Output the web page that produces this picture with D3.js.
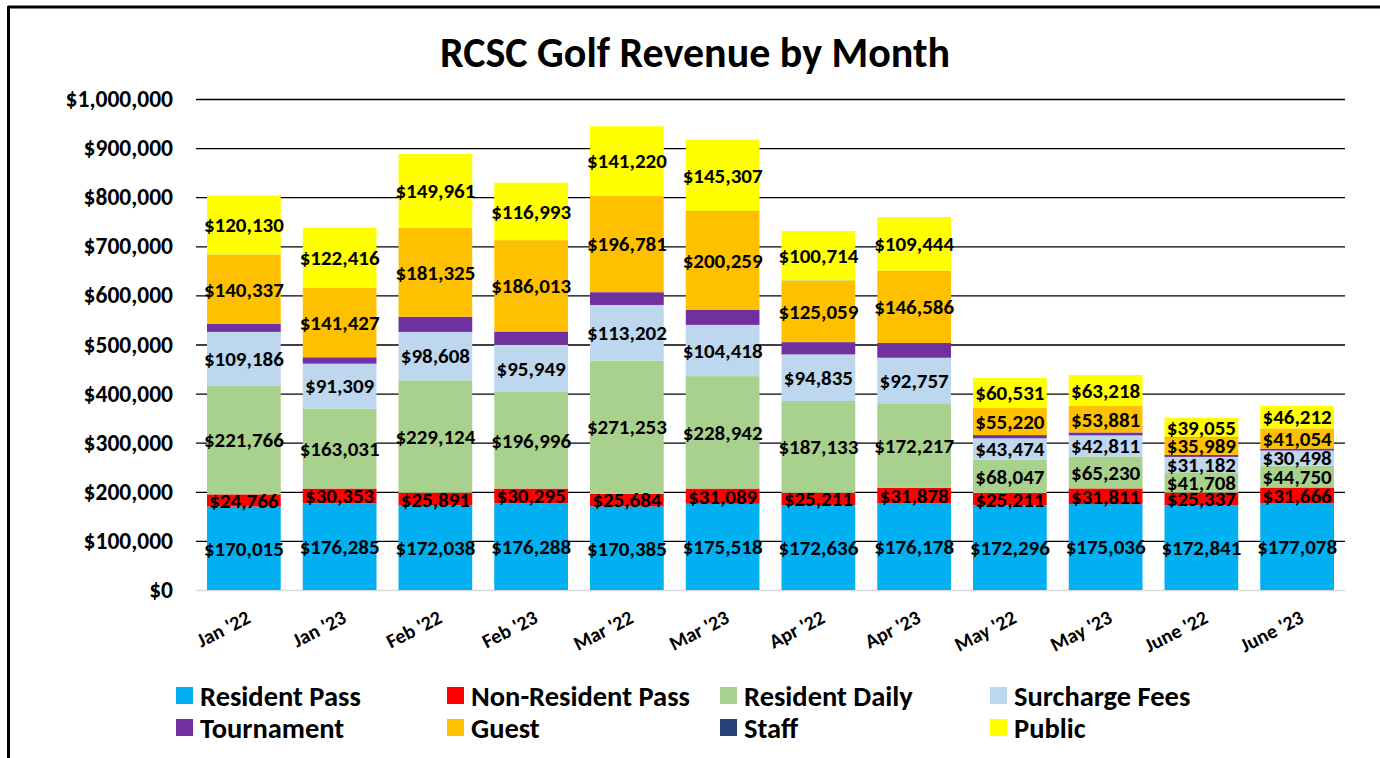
<!DOCTYPE html>
<meta charset="utf-8">
<script src="https://d3js.org/d3.v7.min.js"></script>
<style>
  body { margin: 0; background: #fff; }
  text { font-family: Carlito, Lato, "Open Sans", sans-serif; font-weight: bold; }
</style>
<div id="chart"></div>
<script>

// data
var months = ["Jan '22", "Jan '23", "Feb '22", "Feb '23", "Mar '22", "Mar '23",
              "Apr '22", "Apr '23", "May '22", "May '23", "June '22", "June '23"];
var residentPass    = [170015, 176285, 172038, 176288, 170385, 175518, 172636, 176178, 172296, 175036, 172841, 177078];
var nonResidentPass = [24766, 30353, 25891, 30295, 25684, 31089, 25211, 31878, 25211, 31811, 25337, 31666];
var residentDaily   = [221766, 163031, 229124, 196996, 271253, 228942, 187133, 172217, 68047, 65230, 41708, 44750];
var surchargeFees   = [109186, 91309, 98608, 95949, 113202, 104418, 94835, 92757, 43474, 42811, 31182, 30498];
var tournament      = [16500, 13000, 31000, 27000, 26000, 31000, 25000, 30000, 6500, 6000, 4000, 4000];
var guest           = [140337, 141427, 181325, 186013, 196781, 200259, 125059, 146586, 55220, 53881, 35989, 41054];
var staff           = [500, 0, 0, 0, 0, 500, 500, 500, 500, 0, 500, 0];
var publicFees      = [120130, 122416, 149961, 116993, 141220, 145307, 100714, 109444, 60531, 63218, 39055, 46212];

var seriesNames  = ["Resident Pass", "Non-Resident Pass", "Resident Daily", "Surcharge Fees",
                    "Tournament", "Guest", "Staff", "Public"];
var seriesColors = ["#00b0f0", "#ff0000", "#a9d18e", "#bdd7ee", "#7030a0", "#ffc000", "#264478", "#ffff00"];
var labelled     = [true, true, true, true, false, true, false, true];
var yTicks = [0, 100000, 200000, 300000, 400000, 500000, 600000, 700000, 800000, 900000, 1000000];

var allSeries = [residentPass, nonResidentPass, residentDaily, surchargeFees, tournament, guest, staff, publicFees];

var rows = months.map(function(m, i) {
  var r = {month: m};
  seriesNames.forEach(function(s, k) { r[s] = allSeries[k][i]; });
  return r;
});

var W = 1380, H = 758;
var margin = {top: 99, right: 35, bottom: 168, left: 196};
var width = W - margin.left - margin.right,
    height = H - margin.top - margin.bottom;

var svg = d3.select("#chart").append("svg")
    .attr("width", W)
    .attr("height", H);

// frame
svg.append("line").attr("x1", 8).attr("x2", W).attr("y1", 7).attr("y2", 7)
  .attr("stroke", "#000").attr("stroke-width", 3);
svg.append("line").attr("x1", 8.5).attr("x2", 8.5).attr("y1", 6).attr("y2", H)
  .attr("stroke", "#000").attr("stroke-width", 3);

svg.append("text")
  .attr("x", 695).attr("y", 67)
  .attr("text-anchor", "middle")
  .style("font-size", "42px")
  .text("RCSC Golf Revenue by Month");

var g = svg.append("g")
  .attr("transform", "translate(" + margin.left + "," + margin.top + ")");

var x = d3.scaleBand().domain(months).range([0, width]).paddingInner(0.23).paddingOuter(0.115);
var y = d3.scaleLinear().domain([0, 1000000]).range([height, 0]);

// gridlines
g.selectAll(".grid").data(yTicks).enter().append("line")
  .attr("x1", 0).attr("x2", width)
  .attr("y1", function(d) { return y(d) + 0.5; })
  .attr("y2", function(d) { return y(d) + 0.5; })
  .attr("stroke", function(d) { return d === 0 ? "#d9d9d9" : "#000"; })
  .attr("stroke-width", 1.3);

// y axis labels
var yAxis = g.append("g")
  .call(d3.axisLeft(y).tickValues(yTicks).tickSize(0).tickPadding(23)
    .tickFormat(function(d) { return "$" + d3.format(",")(d); }));
yAxis.select(".domain").remove();
yAxis.selectAll("text").style("font-size", "23.5px").attr("fill", "#000");

// x axis labels
var xAxis = g.append("g")
  .attr("transform", "translate(0," + height + ")")
  .call(d3.axisBottom(x).tickSize(0).tickPadding(0));
xAxis.select(".domain").remove();
xAxis.selectAll("text")
  .style("font-size", "20px")
  .attr("fill", "#000")
  .attr("text-anchor", "end")
  .attr("dy", 0)
  .attr("transform", "translate(8,32) rotate(-27)");

var stack = d3.stack().keys(seriesNames)(rows);

var layers = g.selectAll(".layer").data(stack).enter().append("g")
  .attr("fill", function(d, k) { return seriesColors[k]; });

layers.selectAll("rect").data(function(d) { return d; }).enter().append("rect")
  .attr("x", function(d) { return x(d.data.month); })
  .attr("width", x.bandwidth())
  .attr("y", function(d) { return y(d[1]); })
  .attr("height", function(d) { return y(d[0]) - y(d[1]); });

// data labels
stack.forEach(function(layer, k) {
  if (!labelled[k]) return;
  g.selectAll(".lab" + k).data(layer).enter().append("text")
    .attr("x", function(d) { return x(d.data.month) + x.bandwidth() / 2; })
    .attr("y", function(d) { return y((d[0] + d[1]) / 2); })
    .attr("dy", "0.35em")
    .attr("text-anchor", "middle")
    .style("font-size", "21px")
    .attr("fill", "#000")
    .text(function(d) { return "$" + d3.format(",")(d[1] - d[0]); });
});

// legend
var legCols = [176, 447, 720, 990];
var legend = svg.selectAll(".leg").data(seriesNames).enter().append("g")
  .attr("transform", function(d, i) {
    return "translate(" + legCols[i % 4] + "," + (695 + Math.floor(i / 4) * 32) + ")";
  });
legend.append("rect")
  .attr("x", 0).attr("y", -8).attr("width", 17).attr("height", 17)
  .attr("fill", function(d, i) { return seriesColors[i]; });
legend.append("text")
  .attr("x", 24).attr("y", 1).attr("dy", "0.35em")
  .style("font-size", "28.5px")
  .text(function(d) { return d; });

</script>
